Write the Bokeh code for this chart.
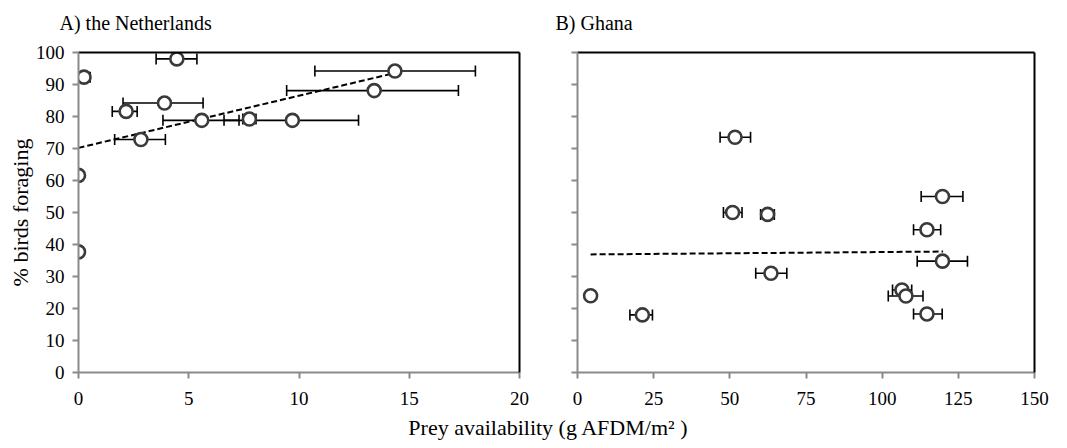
from bokeh.plotting import figure
from bokeh.models import Whisker, ColumnDataSource, LinearAxis, TeeHead, Range1d, FixedTicker, Label
from bokeh.layouts import row, column
from bokeh.embed import file_html
from bokeh.resources import INLINE

# ---------------- data ----------------
# A) the Netherlands
nl_x  = [4.46, 0.25, 14.35, 13.41, 3.90, 2.16, 5.59, 7.75, 9.70, 2.83, 0.0, 0.0]
nl_y  = [98.0, 92.3, 94.2, 88.1, 84.2, 81.6, 78.8, 79.2, 78.8, 72.8, 61.6, 37.7]
nl_lo = [3.52, 0.0, 10.72, 9.44, 2.02, 1.53, 3.83, 7.45, 6.60, 1.64, 0.0, 0.0]
nl_hi = [5.37, 0.53, 18.00, 17.23, 5.65, 2.66, 7.28, 8.05, 12.70, 3.94, 0.0, 0.0]
nl_trend_x = [0.0, 14.3]
nl_trend_y = [70.2, 93.5]

# B) Ghana
gh_x  = [51.7, 119.8, 50.9, 62.4, 114.7, 119.8, 63.5, 106.5, 107.8, 4.3, 21.3, 114.7]
gh_y  = [73.5, 55.0, 50.0, 49.4, 44.6, 34.8, 31.0, 25.8, 23.9, 24.0, 18.0, 18.3]
gh_lo = [46.8, 112.8, 47.9, 60.1, 110.3, 111.5, 58.5, 103.4, 102.0, 4.3, 17.2, 110.3]
gh_hi = [56.8, 126.5, 54.0, 64.6, 119.2, 128.0, 68.7, 109.7, 113.4, 4.3, 24.6, 119.7]
gh_trend_x = [4.3, 120.0]
gh_trend_y = [36.9, 37.8]

nl_xticks = [0, 5, 10, 15, 20]
gh_xticks = [0, 25, 50, 75, 100, 125, 150]
y_ticks = [0, 10, 20, 30, 40, 50, 60, 70, 80, 90, 100]

titles = ["A) the Netherlands", "B) Ghana"]
x_label = "Prey availability (g AFDM/m\u00b2 )"
y_label = "% birds foraging"

FONT = "Liberation Serif"
GREY = "#8a8a8a"
W = 1067
HEAD_H = 40       # strip with the panel titles
BODY_H = 373      # strip with the two panels
FOOT_H = 448 - HEAD_H - BODY_H   # strip with the shared x-axis title


def strip(height):
    s = figure(width=W, height=height, output_backend="svg", toolbar_location=None,
               x_range=Range1d(0, W), y_range=Range1d(0, height), min_border=0)
    s.axis.visible = False
    s.grid.visible = False
    s.outline_line_color = None
    return s


def make_panel(xs, ys, lo, hi, tx, ty, xmax, xticks, width, left, right, show_ylabels):
    p = figure(width=width, height=BODY_H, output_backend="svg", toolbar_location=None,
               x_range=Range1d(0, xmax), y_range=Range1d(0, 100),
               min_border_left=left, min_border_right=right,
               min_border_top=12, min_border_bottom=41)
    p.xgrid.visible = False
    p.ygrid.visible = False
    p.outline_line_color = None
    p.background_fill_color = "white"
    p.border_fill_color = "white"

    for ax in (p.xaxis[0], p.yaxis[0]):
        ax.axis_line_color = GREY
        ax.axis_line_width = 2
        ax.major_tick_line_color = GREY
        ax.major_tick_line_width = 2
        ax.major_tick_out = 6
        ax.major_tick_in = 0
        ax.minor_tick_line_color = None
        ax.major_label_text_font = FONT
        ax.major_label_text_font_size = "19px"
        ax.major_label_text_color = "black"
        ax.axis_label_text_font = FONT
        ax.axis_label_text_font_style = "normal"
        ax.axis_label_text_font_size = "22px"
        ax.axis_label_text_color = "black"
    p.xaxis.ticker = FixedTicker(ticks=xticks)
    p.yaxis.ticker = FixedTicker(ticks=y_ticks)
    p.xaxis.major_label_standoff = 13
    if show_ylabels:
        p.yaxis.axis_label = y_label
        p.yaxis.major_label_standoff = 8
        p.yaxis.axis_label_standoff = 0
    else:
        p.yaxis.major_label_text_font_size = "0px"
        p.yaxis.major_label_standoff = 0

    for loc in ("above", "right"):
        ax = LinearAxis(ticker=FixedTicker(ticks=[]), axis_line_color="black", axis_line_width=2,
                        major_tick_line_color=None, minor_tick_line_color=None,
                        major_tick_out=0, major_tick_in=0,
                        major_label_text_font_size="0px", major_label_standoff=0)
        p.add_layout(ax, loc)

    src = ColumnDataSource(dict(x=xs, y=ys, lo=lo, hi=hi))
    w = Whisker(source=src, base="y", lower="lo", upper="hi", dimension="width",
                line_color="black", line_width=1.6,
                upper_head=TeeHead(size=11, line_color="black", line_width=1.6),
                lower_head=TeeHead(size=11, line_color="black", line_width=1.6))
    w.level = "underlay"
    p.add_layout(w)

    p.line(tx, ty, line_color="black", line_width=2, line_dash="6 3")
    p.scatter("x", "y", source=src, size=13, marker="circle", fill_color="white",
              line_color="#3a3a3a", line_width=2.6)
    return p


head = strip(HEAD_H)
for tx_pos, t in zip([59, 555], titles):
    head.add_layout(Label(x=tx_pos, y=HEAD_H - 22, text=t, text_align="left",
                          text_baseline="middle", text_font=FONT,
                          text_font_size="20px", text_color="black"))

p1 = make_panel(nl_x, nl_y, nl_lo, nl_hi, nl_trend_x, nl_trend_y,
                20, nl_xticks, 545, 78, 26, True)
p2 = make_panel(gh_x, gh_y, gh_lo, gh_hi, gh_trend_x, gh_trend_y,
                150, gh_xticks, 522, 32, 33, False)

foot = strip(FOOT_H)
foot.add_layout(Label(x=548, y=FOOT_H - (427 - HEAD_H - BODY_H), text=x_label,
                      text_align="center", text_baseline="middle",
                      text_font=FONT, text_font_size="22px", text_color="black"))

layout = column(head, row(p1, p2), foot)
open("out.html", "w").write(file_html(layout, INLINE))
